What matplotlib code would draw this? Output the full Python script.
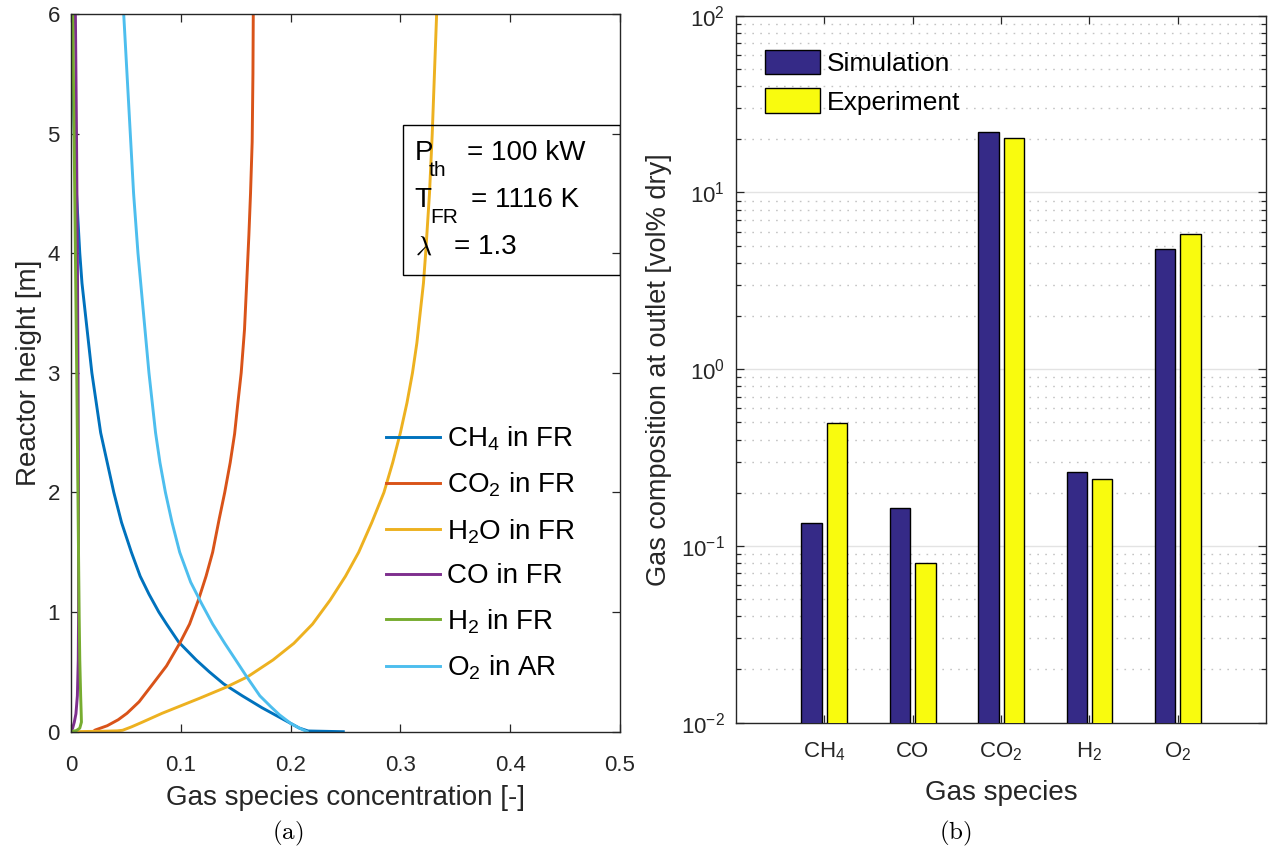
import matplotlib
matplotlib.use("Agg")
import matplotlib.pyplot as plt
from matplotlib.patches import Rectangle
from matplotlib.ticker import LogLocator, NullFormatter, FixedLocator
import numpy as np

plt.rcParams['font.family'] = ['Liberation Sans', 'DejaVu Sans']
plt.rcParams['mathtext.fontset'] = 'custom'
plt.rcParams['mathtext.rm'] = 'Liberation Sans'
plt.rcParams['mathtext.it'] = 'Liberation Sans:italic'
plt.rcParams['mathtext.bf'] = 'Liberation Sans:bold'
plt.rcParams['mathtext.default'] = 'rm'
plt.rcParams['axes.unicode_minus'] = False

# ---------------- (a) axial concentration profiles ----------------
ch4_h = [0.0, 0.006, 0.03, 0.07, 0.12, 0.2, 0.3, 0.4, 0.5, 0.6, 0.75, 0.9, 1.0,
         1.15, 1.3, 1.5, 1.75, 2.0, 2.25, 2.5, 2.75, 3.0, 3.25, 3.5, 3.75, 4.0,
         4.5, 5.0, 5.5, 6.0]
ch4_c = [0.248, 0.216, 0.208, 0.200, 0.190, 0.174, 0.156, 0.139, 0.126, 0.114,
         0.098, 0.087, 0.080, 0.071, 0.063, 0.055, 0.046, 0.039, 0.033, 0.027,
         0.023, 0.019, 0.016, 0.013, 0.010, 0.008, 0.005, 0.003, 0.0015, 0.0005]

co2_h = [0.0, 0.014, 0.05, 0.1, 0.154, 0.25, 0.405, 0.55, 0.739, 0.9, 1.1, 1.3,
         1.5, 1.78, 2.0, 2.25, 2.49, 2.75, 3.0, 3.36, 3.75, 4.15, 4.5, 4.93,
         5.5, 6.0]
co2_c = [0.020, 0.022, 0.033, 0.043, 0.051, 0.062, 0.075, 0.087, 0.099, 0.108,
         0.116, 0.123, 0.129, 0.135, 0.140, 0.145, 0.149, 0.152, 0.155, 0.158,
         0.160, 0.162, 0.1635, 0.165, 0.1657, 0.166]

h2o_h = [0.0, 0.004, 0.007, 0.012, 0.04, 0.08, 0.154, 0.279, 0.371, 0.46, 0.6,
         0.739, 0.9, 1.1, 1.3, 1.5, 1.75, 2.0, 2.25, 2.5, 2.75, 3.0, 3.25, 3.5,
         3.75, 4.0, 4.5, 5.0, 5.5, 6.0]
h2o_c = [0.0, 0.030, 0.042, 0.047, 0.055, 0.065, 0.083, 0.117, 0.141, 0.161,
         0.184, 0.203, 0.220, 0.236, 0.250, 0.262, 0.274, 0.285, 0.293, 0.300,
         0.306, 0.311, 0.315, 0.318, 0.321, 0.323, 0.3265, 0.329, 0.331, 0.333]

co_h = [0.0, 0.03, 0.08, 0.15, 0.3, 0.6, 1.0, 2.0, 3.0, 4.0, 5.0, 6.0]
co_c = [0.0, 0.0015, 0.003, 0.0045, 0.0058, 0.0066, 0.0069, 0.0068, 0.0064,
        0.0058, 0.0050, 0.0040]

h2_h = [0.0, 0.01, 0.03, 0.08, 0.15, 0.3, 0.6, 1.0, 2.0, 3.0, 4.0, 5.0, 6.0]
h2_c = [0.0, 0.005, 0.008, 0.0095, 0.0093, 0.0088, 0.0080, 0.0074, 0.0063,
        0.0052, 0.0040, 0.0028, 0.0015]

o2_h = [0.0, 0.03, 0.07, 0.14, 0.209, 0.3, 0.46, 0.6, 0.739, 0.9, 1.07, 1.25,
        1.5, 1.75, 2.0, 2.25, 2.5, 2.75, 3.0, 3.5, 4.0, 4.5, 5.0, 5.5, 6.0]
o2_c = [0.215, 0.208, 0.200, 0.190, 0.182, 0.172, 0.160, 0.150, 0.140, 0.129,
        0.119, 0.109, 0.099, 0.092, 0.086, 0.081, 0.077, 0.074, 0.071, 0.066,
        0.061, 0.057, 0.054, 0.051, 0.048]

profile_labels = ['CH$_4$ in FR', 'CO$_2$ in FR', 'H$_2$O in FR',
                  'CO in FR', 'H$_2$ in FR', 'O$_2$ in AR']
profile_colors = ['#0072BD', '#D95319', '#EDB120', '#7E2F8E', '#77AC30', '#4DBEEE']

# ---------------- (b) outlet composition ----------------
species = ['CH$_4$', 'CO', 'CO$_2$', 'H$_2$', 'O$_2$']
simulation = [0.133, 0.162, 22.1, 0.26, 4.77]
experiment = [0.494, 0.079, 20.2, 0.237, 5.8]

axis_color = '#262626'

fig = plt.figure(figsize=(12.7, 8.57), dpi=100)

# left panel
ax1 = fig.add_axes([71 / 1270, 1 - 731.7 / 857, 549 / 1270, 717.7 / 857])
series = [(ch4_c, ch4_h), (co2_c, co2_h), (h2o_c, h2o_h),
          (co_c, co_h), (h2_c, h2_h), (o2_c, o2_h)]
for (c, h), lab, col in zip(series, profile_labels, profile_colors):
    ax1.plot(c, h, color=col, lw=2.1, label=lab, solid_joinstyle='round')
ax1.set_xlim(0, 0.5)
ax1.set_ylim(0, 6)
ax1.set_xticks([0, 0.1, 0.2, 0.3, 0.4, 0.5])
ax1.set_xticklabels(['0', '0.1', '0.2', '0.3', '0.4', '0.5'])
ax1.set_yticks(range(0, 7))
ax1.set_xlabel('Gas species concentration [-]', fontsize=20, color=axis_color, labelpad=6)
ax1.set_ylabel('Reactor height [m]', fontsize=20, color=axis_color, labelpad=4)

ax1.legend(loc='upper left', bbox_to_anchor=(0.573, 0.428), frameon=False,
           fontsize=20, handlelength=1.95, handletextpad=0.25,
           labelspacing=0.64, borderpad=0, borderaxespad=0)

# operating conditions box (transparent, curves show through)
ax1.add_patch(Rectangle((0.605, 0.637), 0.395, 0.209, transform=ax1.transAxes,
                        facecolor='none', edgecolor='black', lw=1.0, zorder=5))
tkw = dict(transform=ax1.transAxes, va='center', ha='left', zorder=6, color='black')
ax1.text(0.626, 0.807, 'P', fontsize=20, **tkw)
ax1.text(0.651, 0.782, 'th', fontsize=15, **tkw)
ax1.text(0.722, 0.807, '= 100 kW', fontsize=20, **tkw)
ax1.text(0.626, 0.741, 'T', fontsize=20, **tkw)
ax1.text(0.655, 0.716, 'FR', fontsize=15, **tkw)
ax1.text(0.728, 0.741, '= 1116 K', fontsize=20, **tkw)
ax1.text(0.626, 0.675, r'$\lambda$', fontsize=20, math_fontfamily='cm', **tkw)
ax1.text(0.697, 0.675, '= 1.3', fontsize=20, **tkw)

# right panel
ax2 = fig.add_axes([735.7 / 1270, 1 - 722.7 / 857, 530.5 / 1270, 707 / 857])
x = np.arange(1, len(species) + 1)
width = 0.232
ax2.bar(x - 0.142, simulation, width, bottom=1e-3, color='#352A87',
        edgecolor='black', linewidth=1.0, label='Simulation', zorder=3)
ax2.bar(x + 0.145, experiment, width, bottom=1e-3, color='#F9FB0E',
        edgecolor='black', linewidth=1.0, label='Experiment', zorder=3)
ax2.set_yscale('log')
ax2.set_ylim(1e-2, 1e2)
ax2.set_xlim(0, 6)
ax2.set_xticks(x)
ax2.set_xticklabels(species)
ax2.yaxis.set_major_locator(FixedLocator([1e-2, 1e-1, 1e0, 1e1, 1e2]))
ax2.yaxis.set_minor_locator(LogLocator(base=10, subs=np.arange(2, 10), numticks=20))
ax2.yaxis.set_minor_formatter(NullFormatter())
ax2.set_axisbelow(True)
ax2.yaxis.grid(True, which='major', color='#e3e3e3', lw=1.0, ls='-')
ax2.yaxis.grid(True, which='minor', color='#c4c4c4', lw=1.0, ls=(0, (1.2, 4.5)))
ax2.set_xlabel('Gas species', fontsize=20, color=axis_color, labelpad=12)
ax2.set_ylabel('Gas composition at outlet [vol% dry]', fontsize=19.5,
               color=axis_color, labelpad=6)
ax2.legend(loc='upper left', bbox_to_anchor=(0.055, 0.952), frameon=False,
           fontsize=19, handlelength=2.1, handleheight=1.05, handletextpad=0.25,
           labelspacing=0.47, borderpad=0, borderaxespad=0)

for ax in (ax1, ax2):
    for s in ax.spines.values():
        s.set_color(axis_color)
        s.set_linewidth(1.0)
    ax.tick_params(which='both', direction='in', top=True, right=True,
                   colors=axis_color, labelsize=16, width=0.9)
    ax.tick_params(which='major', length=6)
    ax.tick_params(which='minor', length=3.5)
    ax.tick_params(axis='y', which='major', pad=8)

ax1.tick_params(axis='x', which='major', pad=17)
ax2.tick_params(axis='x', which='major', pad=13)
ax2.tick_params(axis='x', which='minor', bottom=False, top=False)

fig.text(288 / 1270, 1 - 833 / 857, r'$\mathrm{(a)}$', fontsize=18, ha='center',
         va='center', math_fontfamily='cm')
fig.text(955 / 1270, 1 - 833 / 857, r'$\mathrm{(b)}$', fontsize=18, ha='center',
         va='center', math_fontfamily='cm')

fig.savefig('out.png', dpi=100, facecolor='white')
